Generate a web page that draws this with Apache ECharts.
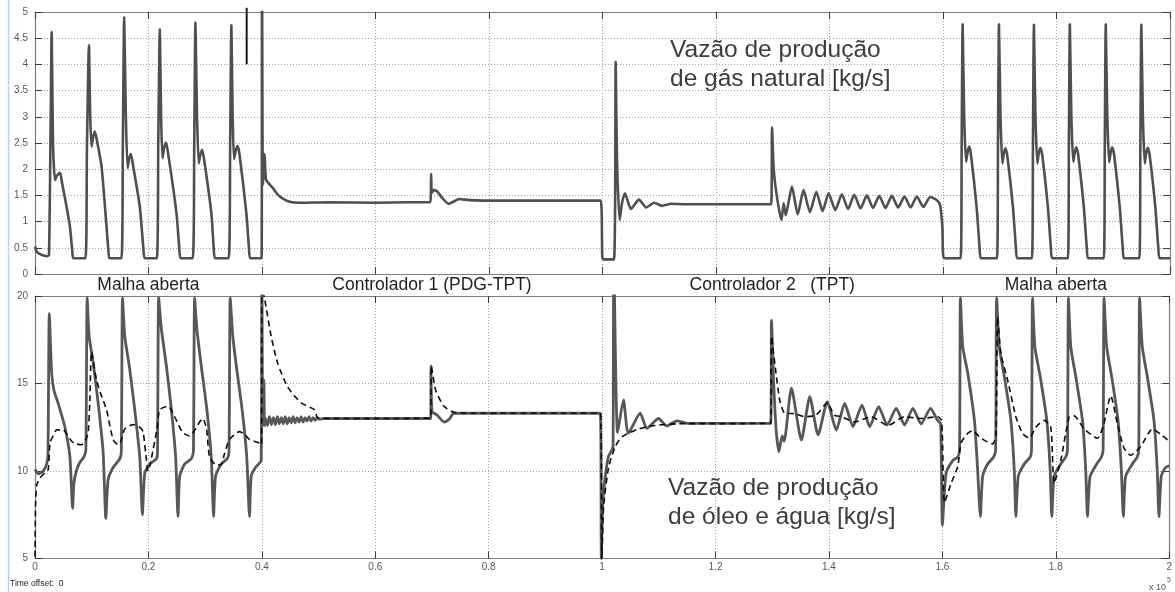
<!DOCTYPE html>
<html>
<head>
<meta charset="utf-8">
<script src="https://cdn.jsdelivr.net/npm/echarts@6/dist/echarts.min.js"></script>
<style>
  html, body { margin: 0; padding: 0; background: #ffffff; }
  #chart { width: 1175px; height: 592px; }
</style>
</head>
<body>
<div id="chart"></div>
<script>
// Time axis (s); labels are shown in units of 1e5 s
const timeMin = 0;
const timeMax = 200000;
const timeStep = 20000;

// Operating regimes along the run
const segmentBounds = [0, 40000, 100000, 160000, 200000];
const segmentNames = ['Malha aberta', 'Controlador 1 (PDG-TPT)', 'Controlador 2   (TPT)', 'Malha aberta'];

// Upper panel: natural gas production flow [kg/s]
const gasFlow = [
  [0, 0.52], [350, 0.42], [1060, 0.37], [2110, 0.34], [2460, 0.36], [2730, 2.6], [2940, 4.62], [3170, 2.5],
  [3520, 1.79], [3870, 1.88], [4400, 1.93], [4750, 1.75], [5450, 1.35], [6160, 0.90], [6560, 0.45], [6770, 0.30],
  [8880, 0.30], [9150, 2.4], [9500, 4.37], [9730, 3.0], [9970, 2.43], [10250, 2.62], [10550, 2.72], [10910, 2.55],
  [11730, 2.05], [12610, 0.90], [12930, 0.45], [13140, 0.30],
  [15220, 0.30], [15480, 2.5], [15710, 4.90], [16010, 3.0], [16310, 2.02], [16590, 2.2], [16890, 2.29], [17240, 2.1],
  [18470, 1.28], [19090, 0.5], [19350, 0.30],
  [21460, 0.30], [21720, 2.5], [21990, 4.67], [22220, 3.0], [22460, 2.21], [22740, 2.4], [23040, 2.51], [23390, 2.35],
  [24930, 1.16], [25420, 0.5], [25680, 0.30],
  [27790, 0.30], [28060, 2.5], [28270, 4.80], [28550, 3.0], [28850, 2.11], [29150, 2.28], [29430, 2.37], [29780, 2.2],
  [31080, 1.16], [31490, 0.5], [31750, 0.30],
  [34120, 0.30], [34390, 2.5], [34600, 4.75], [34830, 3.0], [35060, 2.19], [35360, 2.35], [35660, 2.44], [36010, 2.3],
  [37240, 1.16], [37700, 0.5], [37940, 0.30],
  [39930, 0.30], [40000, 6.0], [40160, 1.70], [40460, 2.29], [40720, 1.80], [41920, 1.64], [42740, 1.52], [43680, 1.44],
  [44860, 1.38], [46610, 1.36], [51890, 1.37], [59810, 1.36], [65960, 1.37], [69660, 1.37],
  [69800, 1.91], [69920, 1.55], [70240, 1.60], [70840, 1.58], [71770, 1.45], [72880, 1.34], [73700, 1.38], [74760, 1.43],
  [76520, 1.41], [81790, 1.40], [90590, 1.40], [99680, 1.40],
  [99960, 0.32], [100170, 0.28], [102020, 0.28], [102320, 4.05], [102550, 2.2], [103020, 1.03], [103430, 1.35],
  [103960, 1.54], [105010, 1.24], [106420, 1.42], [107700, 1.27], [109100, 1.36], [110500, 1.30], [112100, 1.34],
  [114500, 1.33], [120490, 1.33], [129730, 1.33],
  [129870, 2.80], [130170, 2.0], [130700, 1.5], [131520, 1.03], [131930, 1.35], [132280, 1.12],
  [133380, 1.67], [134390, 1.14], [135440, 1.60], [136550, 1.18], [137680, 1.57], [138790, 1.20], [139840, 1.54],
  [141020, 1.22], [142180, 1.52], [143270, 1.24], [144360, 1.51], [145470, 1.25], [146580, 1.50], [147670, 1.26],
  [148760, 1.49], [149870, 1.26], [150970, 1.49], [152100, 1.27], [153210, 1.48], [154300, 1.27], [155380, 1.48],
  [156550, 1.28], [157730, 1.47], [158760, 1.42], [159490, 1.32], [159890, 0.9], [160160, 0.30],
  [163110, 0.30], [163290, 2.5], [163460, 4.77], [163730, 3.0], [164060, 2.14], [164320, 2.32], [164590, 2.43], [164900, 2.3],
  [165920, 1.28], [166450, 0.5], [166700, 0.30],
  [169510, 0.30], [169690, 2.5], [169860, 4.77], [170130, 3.0], [170460, 2.11], [170720, 2.30], [170990, 2.40], [171300, 2.28],
  [172320, 1.28], [172850, 0.5], [173100, 0.30],
  [175670, 0.30], [175850, 2.5], [176020, 4.76], [176290, 3.0], [176620, 2.11], [176880, 2.31], [177150, 2.41], [177460, 2.29],
  [178480, 1.28], [179010, 0.5], [179260, 0.30],
  [182000, 0.30], [182180, 2.5], [182350, 4.77], [182620, 3.0], [182950, 2.14], [183210, 2.32], [183480, 2.42], [183790, 2.3],
  [184810, 1.28], [185340, 0.5], [185590, 0.30],
  [188330, 0.30], [188510, 2.5], [188680, 4.77], [188950, 3.0], [189280, 2.13], [189540, 2.32], [189810, 2.42], [190120, 2.3],
  [191140, 1.28], [191670, 0.5], [191920, 0.30],
  [194600, 0.30], [194780, 2.5], [194950, 4.76], [195220, 3.0], [195550, 2.11], [195810, 2.31], [196080, 2.41], [196390, 2.29],
  [197410, 1.28], [197940, 0.5], [198190, 0.30],
  [200000, 0.30]
];

// Short vertical pen mark near the top of the upper panel
const penMark = [[37300, 5.08], [37300, 4.0]];

// Lower panel: oil + water production flow [kg/s]
const liquidFlow = [
  [0, 10.1], [580, 9.84], [1460, 10.0], [2060, 10.4], [2290, 11.0], [2520, 19.0], [2940, 15.6], [3340, 14.6],
  [4100, 13.85], [5280, 12.5], [6160, 10.8], [6630, 7.87], [6860, 9.3], [7340, 10.05], [7920, 10.5], [8620, 10.8],
  [8970, 11.2], [9200, 19.9], [9550, 17.7], [10250, 16.2], [11130, 13.9], [12010, 11.1], [12490, 7.3], [12890, 9.5],
  [13770, 10.2], [14950, 10.7], [15220, 11.1], [15430, 19.9], [15830, 17.7], [16710, 15.8], [17590, 13.5], [18470, 10.8],
  [18940, 7.5], [19350, 9.87], [20230, 10.4], [21410, 10.7], [21600, 11.1], [21810, 19.9], [22290, 18.1], [23170, 16.0],
  [24050, 13.5], [24800, 10.8], [25210, 7.4], [25510, 9.7], [26390, 10.4], [27560, 10.7], [27930, 11.1], [28140, 19.9],
  [28550, 18.1], [29320, 16.0], [30310, 13.5], [31080, 10.8], [31490, 7.4], [31840, 9.7], [32840, 10.4], [33900, 10.7],
  [34210, 11.1], [34420, 19.9], [34880, 17.7], [35580, 15.8], [36530, 13.5], [37340, 10.8], [37820, 7.4], [38120, 9.7],
  [38870, 10.2], [39880, 10.6],
  [40000, 22], [40160, 12.6], [40370, 15.2], [40460, 12.6], [40630, 13.0], [40980, 12.6], [41330, 13.1], [41680, 12.65],
  [42030, 13.05], [42380, 12.65], [42730, 13.1], [43080, 12.7], [43430, 13.05], [43780, 12.7], [44130, 13.1],
  [44480, 12.7], [44830, 13.05], [45180, 12.75], [45530, 13.1], [45880, 12.75], [46230, 13.05], [46580, 12.8],
  [46930, 13.1], [47280, 12.8], [47630, 13.05], [47980, 12.85], [48330, 13.1], [48680, 12.85], [49030, 13.05],
  [49380, 12.9], [49730, 13.05], [50080, 12.95], [51010, 13.0], [60000, 13.0], [69780, 13.0],
  [69830, 16.0], [70010, 13.4], [70890, 13.2], [72120, 12.8], [73000, 12.95], [73880, 13.3], [76520, 13.3], [99680, 13.3],
  [99860, 5.0], [100090, 8.0], [100560, 9.7], [101140, 10.85], [101720, 11.2], [101930, 11.4], [102070, 22],
  [102730, 12.2], [103780, 14.06], [104610, 12.15], [106720, 13.3], [107880, 12.44], [109940, 13.0], [111400, 12.57],
  [113160, 12.87], [115210, 12.72], [129730, 12.72],
  [129870, 18.6], [130260, 15.0], [130700, 12.3], [131170, 11.1], [131750, 12.0], [132100, 11.7],
  [133380, 14.73], [135140, 11.77], [136620, 14.25], [138080, 12.06], [139720, 13.96], [141300, 12.34], [142780, 13.87],
  [144240, 12.53], [145820, 13.77], [147180, 12.53], [148760, 13.68], [150270, 12.63], [151850, 13.58], [153330, 12.63],
  [154790, 13.58], [156250, 12.69], [157910, 13.58], [159140, 12.9], [159700, 12.7],
  [160000, 6.9], [160650, 9.87], [161830, 10.6], [162710, 10.8], [163030, 11.2], [163180, 19.9], [163590, 17.1],
  [164470, 15.6], [165650, 12.9], [166220, 10.05], [166700, 7.4], [167100, 9.7], [167980, 10.4], [169040, 10.8],
  [169390, 11.2], [169570, 19.9], [170040, 17.1], [170920, 15.4], [172080, 12.9], [172680, 10.05], [172960, 7.4],
  [173380, 9.7], [174440, 10.4], [175490, 10.8], [175720, 11.2], [175900, 19.9], [176310, 17.1], [177250, 15.4],
  [178410, 12.9], [179010, 10.05], [179290, 7.4], [179710, 9.7], [180880, 10.4], [181760, 10.8], [182060, 11.2],
  [182230, 19.9], [182640, 17.1], [183520, 15.4], [184700, 12.9], [185280, 10.05], [185580, 7.4], [186050, 9.7],
  [187210, 10.4], [188040, 10.8], [188340, 11.2], [188510, 19.9], [188970, 17.1], [189850, 15.4], [190970, 12.9],
  [191560, 10.05], [191910, 7.4], [192310, 9.7], [193490, 10.4], [194370, 10.8], [194630, 11.2], [194770, 19.9],
  [195250, 17.1], [196130, 15.4], [197310, 12.9], [197890, 10.05], [198190, 7.4], [198590, 9.7], [199350, 10.2],
  [200000, 10.3]
];

// Lower panel, dashed trace
const liquidFiltered = [
  [0, 5.1], [90, 8.0], [300, 9.2], [880, 9.6], [1760, 9.9], [2340, 10.1], [2640, 11.6], [3170, 12.0], [3820, 12.35],
  [4980, 12.35], [5630, 12.1], [6460, 11.7], [7210, 11.55], [8210, 11.5], [8970, 11.8], [9380, 12.2], [9670, 14.0],
  [9970, 16.8], [10850, 15.2], [11610, 14.4], [12610, 13.5], [13770, 11.8], [14650, 11.5], [15130, 11.7], [15830, 12.4],
  [17290, 12.65], [18470, 12.5], [19050, 12.25], [19520, 11.0], [19930, 10.0], [20320, 10.4], [20810, 11.2], [21460, 12.3],
  [21990, 13.5], [23450, 13.7], [24930, 12.9], [26030, 12.2], [27260, 12.0], [28320, 12.4], [29020, 12.8], [29600, 13.0],
  [30250, 12.4], [30780, 10.8], [31960, 10.35], [32840, 10.35], [33420, 11.0], [34300, 11.8], [36060, 12.25],
  [36940, 12.1], [37820, 11.8], [39580, 11.6], [39930, 11.5],
  [40020, 20.5], [40460, 19.9], [41640, 17.7], [42800, 16.15], [44560, 14.8], [46910, 13.9], [49250, 13.5],
  [49830, 13.05], [51890, 13.0], [60690, 13.0], [69780, 13.05],
  [69880, 16.0], [70660, 14.6], [72120, 13.7], [73880, 13.35], [76520, 13.3], [99680, 13.3],
  [99960, 5.0], [100270, 8.0], [101140, 10.2], [102320, 11.4], [103490, 11.95], [106420, 12.4], [109360, 12.6],
  [113460, 12.7], [129730, 12.72],
  [129870, 17.7], [130470, 16.1], [131350, 14.0], [132220, 13.3], [133980, 13.28], [135740, 13.1], [137730, 13.2],
  [139720, 13.9], [140900, 13.2], [142180, 13.1], [144540, 12.8], [147460, 13.1], [150400, 12.6], [153330, 13.1],
  [156250, 13.0], [159190, 13.1], [159810, 12.9],
  [160000, 12.0], [160380, 8.2], [161540, 9.3], [162710, 10.25], [163290, 11.6], [164470, 12.15], [165350, 12.3],
  [166810, 11.87], [168860, 11.55], [169450, 12.0], [169740, 18.8], [170320, 16.7], [171500, 15.2], [172960, 13.1],
  [174140, 12.15], [175320, 11.87], [176480, 12.5], [177960, 12.9], [179120, 12.5], [179710, 9.3], [180880, 10.6],
  [182360, 13.1], [183240, 13.15], [185000, 12.4], [187340, 11.87], [188400, 12.6], [189690, 14.3], [190860, 12.7],
  [192040, 11.3], [193210, 10.9], [194970, 11.4], [197030, 12.4], [198490, 12.1], [199650, 11.8], [200000, 11.75]
];

// Panel annotations
const gasLabel = 'Vazão de produção\nde gás natural [kg/s]';
const liquidLabel = 'Vazão de produção\nde óleo e água [kg/s]';

const frameColor = '#7c7c7c';
const tickColor = '#3a3a3a';
const gridColor = '#a0a0a0';
const labelFont = 'Liberation Sans';

function xAxisDef(gridIndex, position, primary, showLabels) {
  return {
    gridIndex: gridIndex, type: 'value', position: position,
    min: timeMin, max: timeMax, interval: timeStep,
    axisLine: { show: true, onZero: false, lineStyle: { color: frameColor, width: 1.2 } },
    axisTick: { show: true, inside: true, length: 7, lineStyle: { color: tickColor, width: 1 } },
    axisLabel: {
      show: showLabels, margin: 4, color: '#555', fontSize: 10, fontFamily: labelFont,
      formatter: function (v) { return String(v / 1e5); }
    },
    splitLine: { show: primary, lineStyle: { type: [1, 2], color: gridColor, width: 1 } }
  };
}

function yAxisDef(gridIndex, position, primary, min, max, step) {
  return {
    gridIndex: gridIndex, type: 'value', position: position,
    min: min, max: max, interval: step,
    axisLine: { show: true, onZero: false, lineStyle: { color: frameColor, width: 1.2 } },
    axisTick: { show: true, inside: true, length: 7, lineStyle: { color: tickColor, width: 1 } },
    axisLabel: { show: primary, margin: 7, color: '#555', fontSize: 10, fontFamily: labelFont },
    splitLine: { show: primary, lineStyle: { type: [1, 2], color: gridColor, width: 1 } }
  };
}

const chart = echarts.init(document.getElementById('chart'), null, { renderer: 'canvas' });

chart.setOption({
  animation: false,
  backgroundColor: '#ffffff',
  grid: [
    { left: 35, right: 5, top: 12, height: 262 },
    { left: 35, right: 5, top: 296, height: 262.5 }
  ],
  xAxis: [
    xAxisDef(0, 'bottom', true, false),
    xAxisDef(0, 'top', false, false),
    xAxisDef(1, 'bottom', true, true),
    xAxisDef(1, 'top', false, false)
  ],
  yAxis: [
    yAxisDef(0, 'left', true, 0, 5, 0.5),
    yAxisDef(0, 'right', false, 0, 5, 0.5),
    yAxisDef(1, 'left', true, 5, 20, 5),
    yAxisDef(1, 'right', false, 5, 20, 5)
  ],
  series: [
    {
      name: 'gas', type: 'line', xAxisIndex: 0, yAxisIndex: 0, data: gasFlow,
      showSymbol: false, smooth: 0.2, clip: true,
      lineStyle: { color: '#4f4f4f', width: 2.6 }
    },
    {
      name: 'pen', type: 'line', xAxisIndex: 0, yAxisIndex: 0, data: penMark,
      showSymbol: false, clip: false,
      lineStyle: { color: '#1a1a1a', width: 2 }
    },
    {
      name: 'liquid', type: 'line', xAxisIndex: 2, yAxisIndex: 2, data: liquidFlow,
      showSymbol: false, smooth: 0.2, clip: true,
      lineStyle: { color: '#575757', width: 2.8 }
    },
    {
      name: 'liquidFiltered', type: 'line', xAxisIndex: 2, yAxisIndex: 2, data: liquidFiltered,
      showSymbol: false, smooth: 0.2, clip: true, z: 3,
      lineStyle: { color: '#0d0d0d', width: 1.6, type: [6, 4] }
    }
  ]
});

// Regime titles centred over each time segment, plus panel annotations
const bandY = 285;
const graphics = [
  { type: 'line', shape: { x1: 8.5, y1: 0, x2: 8.5, y2: 592 }, style: { stroke: '#b9d2e8', lineWidth: 1.5 }, silent: true },
  { type: 'text', left: 670, top: 36, style: { text: gasLabel, font: '24.5px "Liberation Sans"', fill: '#3c3c3c', lineHeight: 28.5 } },
  { type: 'text', left: 668, top: 474, style: { text: liquidLabel, font: '24.5px "Liberation Sans"', fill: '#3c3c3c', lineHeight: 28.5 } },
  { type: 'text', left: 10, top: 579, style: { text: 'Time offset:  0', font: '8.5px "Liberation Sans"', fill: '#222' } },
  { type: 'text', left: 1149, top: 583, style: { text: 'x 10', font: '9px "Liberation Sans"', fill: '#555' } },
  { type: 'text', left: 1167, top: 577, style: { text: '5', font: '7px "Liberation Sans"', fill: '#555' } }
];
for (let i = 0; i < segmentNames.length; i++) {
  const mid = (segmentBounds[i] + segmentBounds[i + 1]) / 2;
  const px = chart.convertToPixel({ xAxisIndex: 2 }, mid);
  graphics.push({
    type: 'text', x: px, y: bandY,
    style: { text: segmentNames[i], font: '17.5px "Liberation Sans"', fill: '#1e1e1e', align: 'center', verticalAlign: 'middle' }
  });
}
chart.setOption({ graphic: graphics });
</script>
</body>
</html>
